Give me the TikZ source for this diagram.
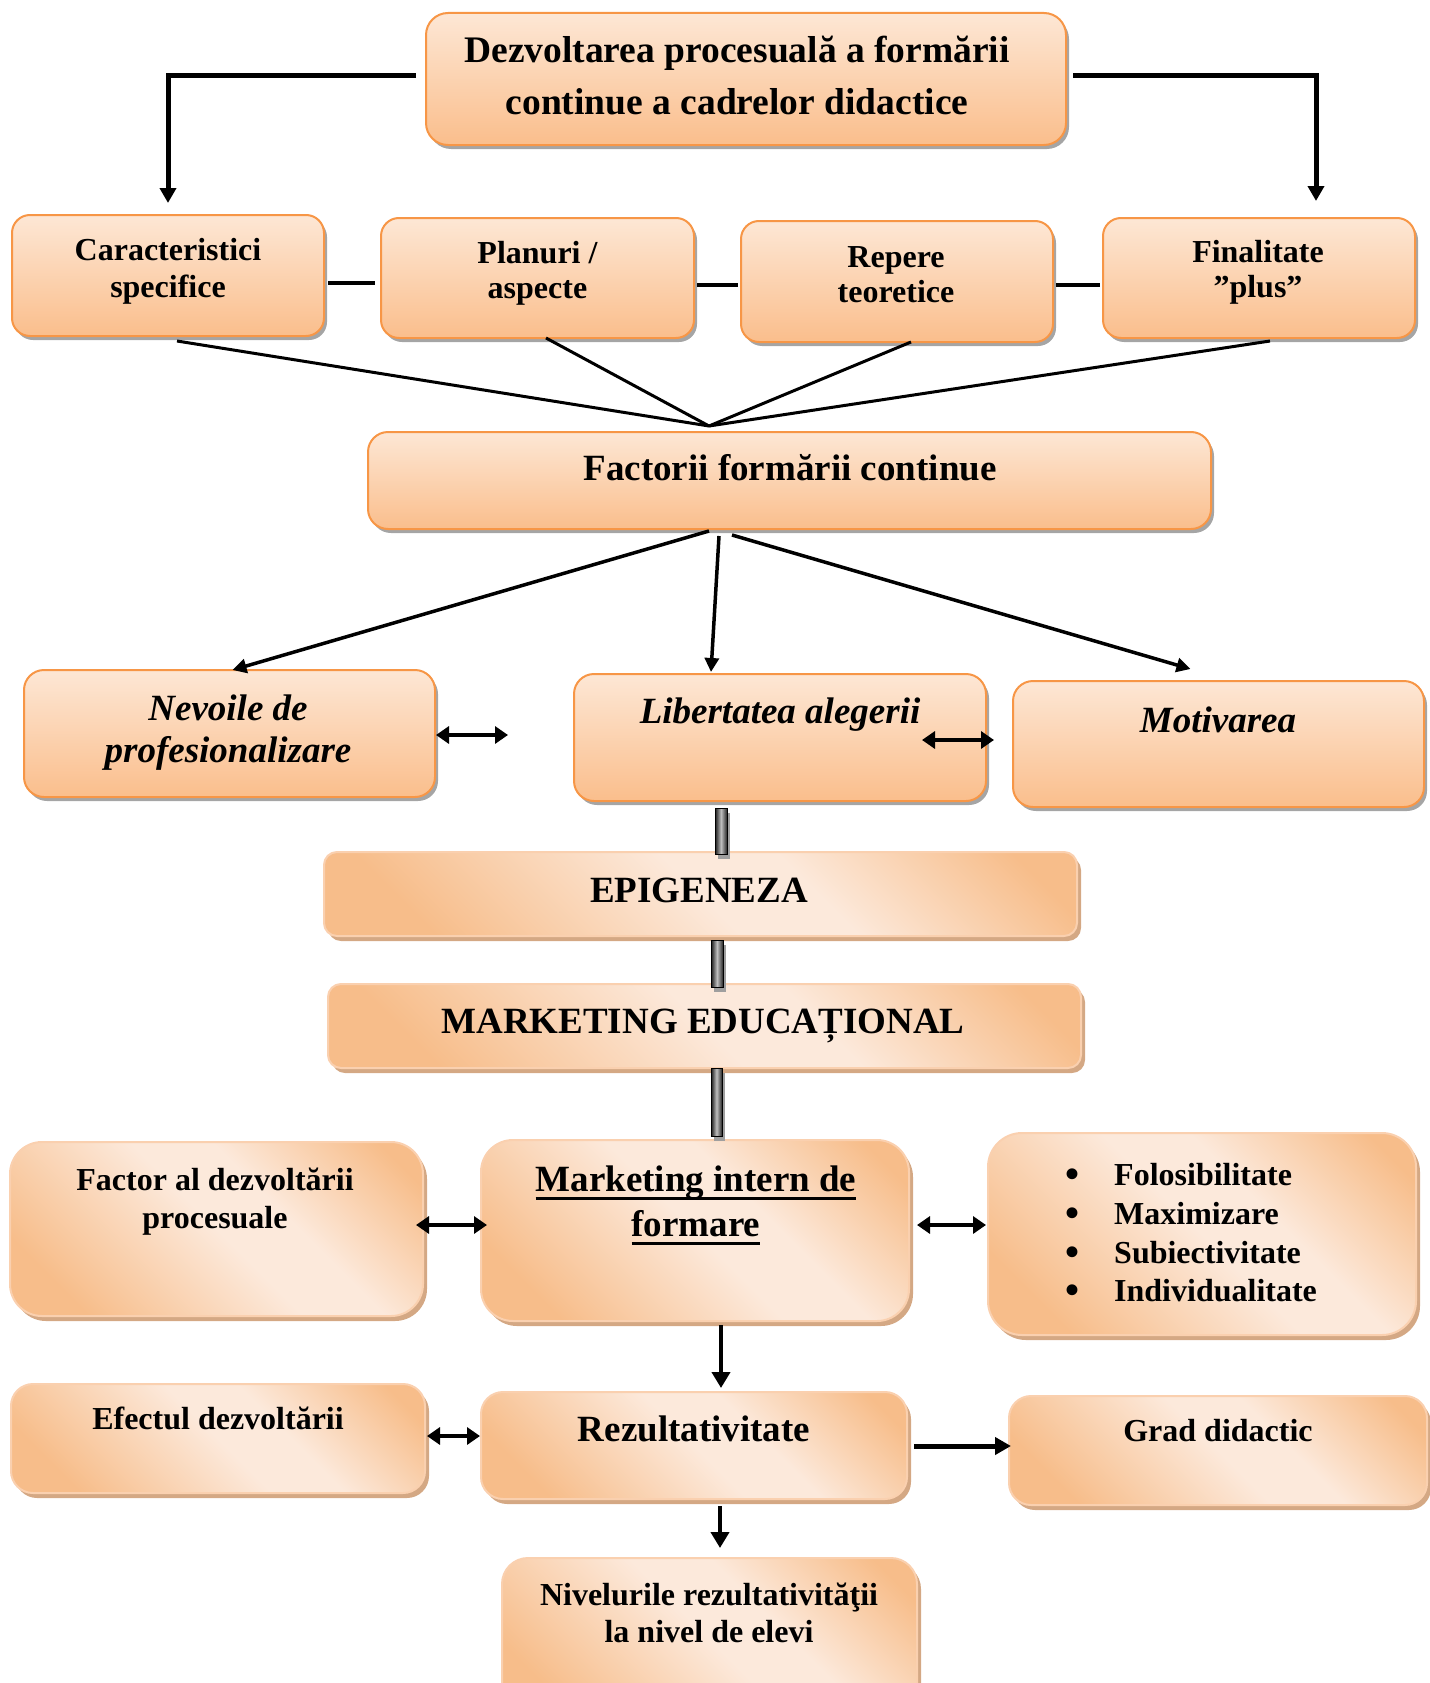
\documentclass[tikz,border=0pt]{standalone}
\usepackage{fontspec}
\setmainfont{Liberation Serif}
\usetikzlibrary{arrows.meta,calc,shadows}
\definecolor{obord}{RGB}{247,150,70}
\definecolor{otop}{RGB}{253,231,213}
\definecolor{obot}{RGB}{250,190,140}
\definecolor{orng}{RGB}{247,189,138}
\definecolor{pale}{RGB}{252,233,219}
\definecolor{lbord}{RGB}{250,208,175}
\definecolor{gshadow}{RGB}{165,165,165}
\definecolor{tshadow}{RGB}{212,168,132}
\pgfdeclarehorizontalshading{diagsh}{100bp}{color(0bp)=(orng); color(24bp)=(orng); color(50bp)=(pale); color(60bp)=(pale); color(80bp)=(orng); color(100bp)=(orng)}
\newcommand\myul[1]{\setbox0\hbox{#1}\rlap{\rule[-9pt]{\wd0}{3.5pt}}\box0}
\newcommand\mybul{\makebox[49pt][l]{\fontsize{40}{40}\selectfont\raisebox{-2.5pt}{•}}}
\begin{document}
\begin{tikzpicture}[x=1pt,y=-1pt,
  topbox/.style={rectangle, rounded corners=18pt, draw=obord, line width=2pt,
    top color=otop, bottom color=obot, inner sep=0pt,
    drop shadow={shadow xshift=3pt, shadow yshift=-4pt, fill=gshadow, opacity=1}},
  subbox/.style={rectangle, rounded corners=22pt, draw=lbord, line width=2pt,
    shade, shading=diagsh, shading angle=45, inner sep=0pt,
    drop shadow={shadow xshift=4pt, shadow yshift=-5pt, fill=tshadow, opacity=1}},
  conn/.style={line width=3.5pt, line cap=butt},
  connthin/.style={line width=3pt},
  connmid/.style={line width=4pt},
  connthick/.style={line width=5pt, line join=miter},
  tip/.style={arrows={-Triangle[length=15pt,width=16pt]}},
  dbl/.style={line width=4.5pt, arrows={Triangle[length=13pt,width=17pt]-Triangle[length=13pt,width=17pt]}},
  pipe/.style={draw=black, line width=1pt, left color=black!90, right color=black!85, middle color=gray!50,
    drop shadow={shadow xshift=3pt, shadow yshift=-5pt, fill=gray!75, opacity=1}},
  t32/.style={font=\fontsize{32}{38}\selectfont\bfseries, inner sep=0pt, anchor=base},
  t37/.style={font=\fontsize{37}{44}\selectfont\bfseries, inner sep=0pt, anchor=base},
  t37i/.style={font=\fontsize{37}{44}\selectfont\bfseries\itshape, inner sep=0pt, anchor=base},
  t38/.style={font=\fontsize{37.5}{44}\selectfont\bfseries, inner sep=0pt, anchor=base}
]
\useasboundingbox (0,0) rectangle (1429,1683);

% ---------- boxes ----------
\node[topbox, rounded corners=22pt, minimum width=640pt, minimum height=132pt] (title) at (746,79) {};
\node[topbox, minimum width=312pt, minimum height=121pt] (car) at (168,275.5) {};
\node[topbox, minimum width=313pt, minimum height=120pt] (plan) at (537.5,278) {};
\node[topbox, minimum width=312pt, minimum height=121pt] (rep) at (897,281.5) {};
\node[topbox, minimum width=312pt, minimum height=120pt] (fin) at (1259,278) {};
\node[topbox, rounded corners=20pt, minimum width=843pt, minimum height=97pt] (fac) at (789.5,480.5) {};
\node[topbox, rounded corners=20pt, minimum width=411pt, minimum height=127pt] (nev) at (229.5,733.5) {};
\node[topbox, rounded corners=20pt, minimum width=412pt, minimum height=127pt] (lib) at (780,737.5) {};
\node[topbox, rounded corners=20pt, minimum width=411pt, minimum height=126pt] (mot) at (1218.5,744) {};
\node[subbox, rounded corners=13pt, minimum width=753pt, minimum height=84pt] (epi) at (700.5,894) {};
\node[subbox, rounded corners=13pt, minimum width=753pt, minimum height=84pt] (med) at (704.5,1026) {};
\node[subbox, rounded corners=32pt, minimum width=413pt, minimum height=174pt] (fad) at (216.5,1229) {};
\node[subbox, rounded corners=32pt, minimum width=428pt, minimum height=181pt] (mif) at (695,1230.5) {};
\node[subbox, rounded corners=34pt, minimum width=428pt, minimum height=202pt] (bul) at (1202,1234) {};
\node[subbox, minimum width=414pt, minimum height=109pt] (efe) at (218,1438.5) {};
\node[subbox, minimum width=426pt, minimum height=107pt] (rez) at (694,1445.5) {};
\node[subbox, minimum width=418pt, minimum height=109pt] (grad) at (1218,1450.5) {};
\node[subbox, rounded corners=26pt, minimum width=415pt, minimum height=162pt] (niv) at (709.5,1639) {};

% ---------- connectors ----------
\draw[connthick, tip] ($(title.west)+(-9,-3)$) -| ($(car.north)+(0,-11)$);
\draw[connthick, tip] ($(title.east)+(6,-3)$) -| ($(fin.north)+(57,-16)$);

\draw[connmid] ($(car.east)+(3,7.5)$) -- ($(plan.west)+(-5,5)$);
\draw[connmid] ($(plan.east)+(2,7)$) -- ($(rep.west)+(-2,3.5)$);
\draw[connmid] ($(rep.east)+(2,3.5)$) -- ($(fin.west)+(-2,7)$);

\coordinate (conv) at ($(fac.north)+(-80.5,-5)$);
\draw[connthin] ($(car.south)+(9,4)$) -- (conv);
\draw[connthin] ($(plan.south)+(8.5,-1)$) -- (conv);
\draw[connthin] ($(rep.south)+(14,-1)$) -- (conv);
\draw[connthin] ($(fin.south)+(11,2)$) -- (conv);

\draw[conn, arrows={-Triangle[length=14pt,width=14pt]}] ($(fac.south)+(-80.5,1)$) -- ($(nev.north)+(3,1)$);
\draw[conn, arrows={-Triangle[length=14pt,width=14pt]}] ($(fac.south)+(-70.5,6)$) -- ($(lib.north)+(-69,-1)$);
\draw[conn, arrows={-Triangle[length=14pt,width=14pt]}] ($(fac.south)+(-57.5,5)$) -- ($(mot.north)+(-28,-11)$);

\draw[dbl] ($(nev.east)+(0,1.5)$) -- ($(nev.east)+(72,1.5)$);
\draw[dbl] ($(lib.east)+(-65,2.5)$) -- ($(lib.east)+(7,2.5)$);

\path[pipe] ($(lib.south)+(-65,6)$) rectangle ($(epi.north)+(26.5,3)$);
\path[pipe] ($(epi.south)+(10.5,3)$) rectangle ($(med.north)+(18.5,4)$);
\path[pipe] ($(med.south)+(6.5,-1)$) rectangle ($(mif.north)+(27,-3)$);

\draw[dbl] ($(fad.east)+(-8,-4)$) -- ($(mif.west)+(7,-5.5)$);
\draw[dbl] ($(mif.east)+(7,-5.5)$) -- ($(bul.west)+(-1,-9)$);
\draw[dbl] ($(efe.east)+(1,-2.5)$) -- ($(rez.west)+(0,-9.5)$);

\draw[connmid, arrows={-Triangle[length=16pt,width=18pt]}] ($(mif.south)+(26,3)$) -- ($(rez.north)+(27,-3)$);
\draw[connthick, arrows={-Triangle[length=16pt,width=17pt]}] ($(rez.east)+(6,0.5)$) -- ($(grad.west)+(3,-4.5)$);
\draw[connmid, arrows={-Triangle[length=16pt,width=18pt]}] ($(rez.south)+(26,6)$) -- ($(niv.north)+(10.5,-9)$);

% ---------- texts ----------
\node[t38] (ti1) at (737,63) {Dezvoltarea procesuală a formării};
\node[t38] (ti2) at (737,115) {continue a cadrelor didactice};
\node[t32] (car1) at (168,260) {Caracteristici};
\node[t32] (car2) at (168,297) {specifice};
\node[t32] (pl1) at (537.5,263) {Planuri /};
\node[t32] (pl2) at (537.5,298) {aspecte};
\node[t32] (re1) at (896,267) {Repere};
\node[t32] (re2) at (896,302) {teoretice};
\node[t32] (fi1) at (1258,262) {Finalitate};
\node[t32] (fi2) at (1258,297) {”plus”};
\node[t37] (fa1) at (790,480) {Factorii formării continue};
\node[t37i] (ne1) at (228,720) {Nevoile de};
\node[t37i] (ne2) at (228,762) {profesionalizare};
\node[t37i] (li1) at (780,723) {Libertatea alegerii};
\node[t37i] (mo1) at (1218,732) {Motivarea};
\node[t37] (ep1) at (699,902) {EPIGENEZA};
\node[t37] (me1) at (703,1033) {MARKETING EDUCAȚIONAL};
\node[t32] (fd1) at (215,1190) {Factor al dezvoltării};
\node[t32] (fd2) at (215,1228) {procesuale};
\node[t37] (mi1) at (696,1191) {\myul{Marketing intern de}};
\node[t37] (mi2) at (696,1236) {\myul{formare}};
\node[t32] (ef1) at (218,1429.5) {Efectul dezvoltării};
\node[t37] (rz1) at (694,1441) {Rezultativitate};
\node[t32] (gr1) at (1218,1441) {Grad didactic};
\node[t32] (nv1) at (709,1605) {Nivelurile rezultativităţii};
\node[t32] (nv2) at (709,1642) {la nivel de elevi};
\foreach \w/\yy [count=\i] in {Folosibilitate/1185, Maximizare/1224, Subiectivitate/1263, Individualitate/1301} {
  \node[t32, anchor=base west] (bt\i) at (1065,\yy) {\mybul\w};
}
\end{tikzpicture}
\end{document}
